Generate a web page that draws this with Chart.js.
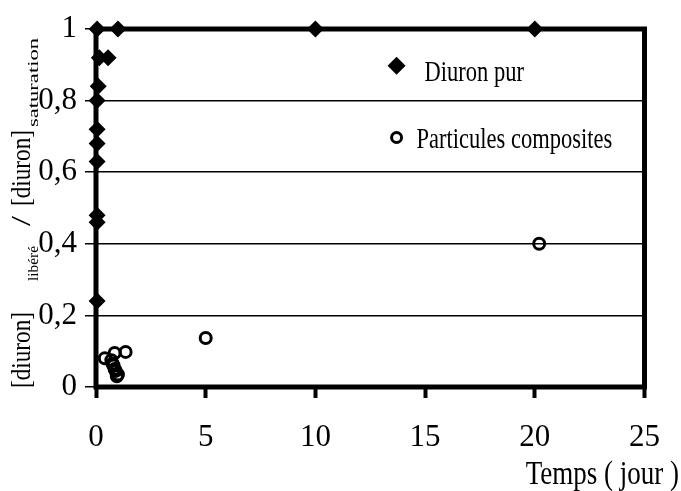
<!DOCTYPE html>
<html>
<head>
<meta charset="utf-8">
<script src="https://cdn.jsdelivr.net/npm/chart.js@4.4.0/dist/chart.umd.min.js"></script>
<style>
    html, body { margin: 0; padding: 0; background: #fff; }
</style>
</head>
<body>
<canvas id="graf" width="681" height="491"></canvas>
<script>
// Diuron pur
var diuronX = [0.05, 1.0, 0.15, 0.55, 0.1, 0.05, 0.05, 0.05, 0.05, 0.05, 0.05, 0.05, 10, 20];
var diuronY = [1, 1, 0.92, 0.92, 0.84, 0.80, 0.72, 0.68, 0.63, 0.48, 0.46, 0.24, 1, 1];
// Particules composites
var compX = [0.4, 0.85, 1.35, 0.7, 0.75, 0.8, 0.85, 0.9, 1.0, 0.95, 5.0, 20.2];
var compY = [0.08, 0.095, 0.098, 0.075, 0.065, 0.06, 0.05, 0.045, 0.035, 0.03, 0.137, 0.40];

var xTicks = ['0', '5', '10', '15', '20', '25'];
var yTicks = ['0', '0,2', '0,4', '0,6', '0,8', '1'];

var serif = "'Liberation Serif', 'Times New Roman', serif";

function pts(xs, ys) {
    return xs.map(function (x, i) { return { x: x, y: ys[i] }; });
}

// texte etire (le texte de l'original est plus haut que large)
function stretchText(ctx, txt, x, y, sy) {
    ctx.save();
    ctx.translate(x, y);
    ctx.scale(1, sy);
    ctx.fillText(txt, 0, 0);
    ctx.restore();
}

function fitText(ctx, txt, x, y, len) {
    var w = ctx.measureText(txt).width;
    ctx.save();
    ctx.translate(x, y);
    ctx.scale(len / w, 1);
    ctx.fillText(txt, 0, 0);
    ctx.restore();
}

var cadre = {
    id: 'cadre',
    beforeDatasetsDraw: function (chart) {
        var a = chart.chartArea, ctx = chart.ctx;
        ctx.save();
        ctx.lineWidth = 5;
        ctx.strokeStyle = '#000';
        ctx.strokeRect(a.left, a.top, a.right - a.left, a.bottom - a.top);
        ctx.restore();
    },
    afterDraw: function (chart) {
        var ctx = chart.ctx, sx = chart.scales.x, sy = chart.scales.y;
        ctx.save();
        ctx.fillStyle = '#000';
        ctx.textBaseline = 'alphabetic';

        // legende
        var lx = sx.getPixelForValue(13.7);
        var ly1 = sy.getPixelForValue(0.897);
        var ly2 = sy.getPixelForValue(0.697);
        ctx.beginPath();
        ctx.moveTo(lx, ly1 - 9);
        ctx.lineTo(lx + 9, ly1);
        ctx.lineTo(lx, ly1 + 9);
        ctx.lineTo(lx - 9, ly1);
        ctx.closePath();
        ctx.fill();
        ctx.beginPath();
        ctx.lineWidth = 3;
        ctx.arc(lx, ly2, 5, 0, Math.PI * 2);
        ctx.stroke();
        ctx.font = '22.5px ' + serif;
        ctx.textAlign = 'left';
        stretchText(ctx, 'Diuron pur', lx + 28, ly1 + 15, 1.35);
        stretchText(ctx, 'Particules composites', lx + 20, ly2 + 11, 1.35);

        // titre axe X
        ctx.font = '27px ' + serif;
        ctx.textAlign = 'right';
        stretchText(ctx, 'Temps ( jour )', 679, 484, 1.25);

        // titre axe Y
        ctx.translate(30, 388);
        ctx.rotate(-Math.PI / 2);
        ctx.textAlign = 'left';
        ctx.font = '27px ' + serif;
        fitText(ctx, '[diuron]', 0, 0, 76);
        ctx.font = '14px ' + serif;
        fitText(ctx, 'libéré', 107, 8, 35);
        ctx.font = '27px ' + serif;
        fitText(ctx, '/', 162, 0, 10);
        fitText(ctx, '[diuron]', 182, 0, 76);
        ctx.font = '14px ' + serif;
        fitText(ctx, 'saturation', 261, 8, 89);
        ctx.restore();
    }
};

var graf = new Chart(document.getElementById('graf'), {
    type: 'scatter',
    data: {
        datasets: [{
            label: 'Diuron pur',
            data: pts(diuronX, diuronY),
            pointStyle: 'rectRot',
            pointRadius: 8.5,
            pointHoverRadius: 8.5,
            backgroundColor: '#000',
            borderColor: '#000',
            borderWidth: 0,
            clip: false
        }, {
            label: 'Particules composites',
            data: pts(compX, compY),
            pointStyle: 'circle',
            pointRadius: 5.5,
            pointHoverRadius: 5.5,
            backgroundColor: 'rgba(0,0,0,0)',
            borderColor: '#000',
            borderWidth: 3,
            clip: false
        }]
    },
    options: {
        responsive: false,
        animation: false,
        layout: { padding: { top: 29, right: 33, left: 0, bottom: 0 } },
        plugins: {
            legend: { display: false },
            tooltip: { enabled: false }
        },
        scales: {
            x: {
                type: 'linear',
                min: 0,
                max: 25,
                afterFit: function (s) { s.height = 104; },
                border: { display: false },
                grid: {
                    drawOnChartArea: false,
                    color: '#000',
                    tickLength: 11,
                    tickWidth: 4,
                    tickColor: '#000'
                },
                ticks: {
                    stepSize: 5,
                    padding: 21,
                    color: '#000',
                    font: { family: serif, size: 31 },
                    callback: function (v) { return xTicks[Math.round(v / 5)]; }
                }
            },
            y: {
                min: 0,
                max: 1,
                afterFit: function (s) { s.width = 96; },
                border: { display: false },
                grid: {
                    color: '#000',
                    lineWidth: 1.5,
                    tickLength: 11
                },
                ticks: {
                    stepSize: 0.2,
                    padding: 8,
                    color: '#000',
                    font: { family: serif, size: 31 },
                    callback: function (v) { return yTicks[Math.round(v * 5)]; }
                }
            }
        }
    },
    plugins: [cadre]
});
</script>
</body>
</html>
